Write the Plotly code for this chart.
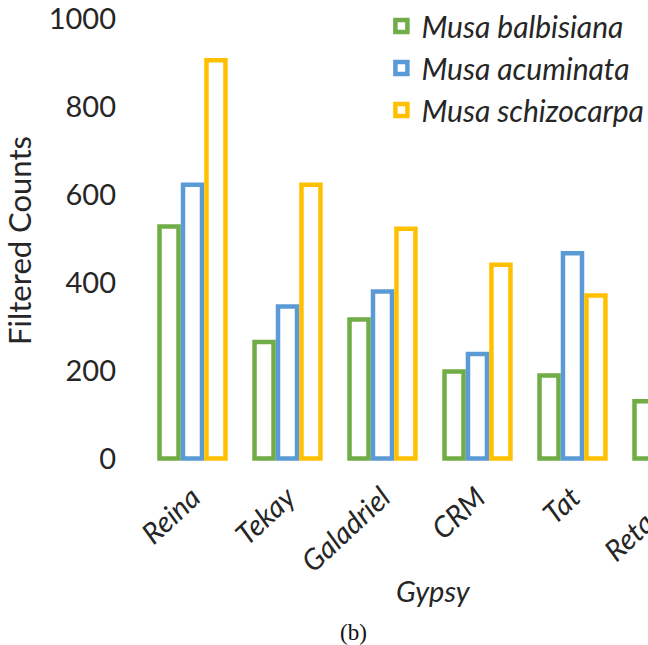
import plotly.graph_objects as go

# Gypsy lineage filtered counts per Musa genome
categories = ["Reina", "Tekay", "Galadriel", "CRM", "Tat", "Retand"]
balbisiana = [528, 265, 316, 198, 189, 130]
acuminata = [623, 346, 380, 238, 467, None]
schizocarpa = [906, 623, 523, 441, 371, None]

series_names = ["Musa balbisiana", "Musa acuminata", "Musa schizocarpa"]
series_colors = ["#70AD47", "#5B9BD5", "#FFC000"]
y_ticks = [0, 200, 400, 600, 800, 1000]

FONT = "Lato"
TEXT = "#262626"

x_range = [-0.5, 4.795]
y_range = [-8, 1000]

idx = list(range(len(categories)))
bar_w = 0.2
offsets = [-0.347, -0.1, 0.147]

fig = go.Figure()
for name, vals, col, off in zip(series_names, [balbisiana, acuminata, schizocarpa],
                                series_colors, offsets):
    fig.add_trace(go.Bar(
        x=idx, y=vals, name=name, width=bar_w, offset=off,
        legendgroup=name,
        marker=dict(color="white", line=dict(color=col, width=4.5)),
    ))

# label for the last category, which sits past the right edge of the axis range
last = len(categories) - 1
px_last = (last - x_range[0]) / (x_range[1] - x_range[0])

fig.update_layout(
    width=648, height=645,
    margin=dict(l=145, r=0, t=19, b=182.5, pad=0, autoexpand=False),
    paper_bgcolor="white", plot_bgcolor="white",
    barmode="overlay",
    font=dict(family=FONT, color=TEXT, size=29),
    showlegend=True,
    legend=dict(
        x=0.47, y=1.0, xanchor="left", yanchor="top", yref="container",
        font=dict(family=FONT, size=30, color=TEXT, style="italic"),
        tracegroupgap=0, bgcolor="rgba(0,0,0,0)",
    ),
    xaxis=dict(
        range=x_range, tickmode="array", tickvals=idx, ticktext=categories,
        tickangle=-43, showgrid=False, showline=False, zeroline=False, ticks="",
        ticklabelstandoff=12,
        tickfont=dict(family=FONT, size=29, color=TEXT, style="italic"),
    ),
    yaxis=dict(
        range=y_range, tickmode="array", tickvals=y_ticks,
        showgrid=False, showline=False, zeroline=False, ticks="",
        ticklabelstandoff=28,
        tickfont=dict(family=FONT, size=29, color=TEXT),
        title=dict(text="Filtered Counts", standoff=13,
                   font=dict(family=FONT, size=31, color=TEXT)),
    ),
    annotations=[
        dict(text=categories[last], xref="paper", yref="paper",
             x=px_last, y=0, xanchor="right", yanchor="top",
             textangle=-43, showarrow=False, yshift=-19, xshift=18,
             font=dict(family=FONT, size=29, color=TEXT, style="italic")),
        dict(text="Gypsy", xref="paper", yref="paper",
             x=(433 - 145) / 503, y=-0.29, xanchor="center", yanchor="middle",
             showarrow=False,
             font=dict(family=FONT, size=29, color=TEXT, style="italic")),
        dict(text="(b)", xref="paper", yref="paper",
             x=(353 - 145) / 503, y=-0.385, xanchor="center", yanchor="middle",
             showarrow=False,
             font=dict(family="Liberation Serif", size=23, color="#111111")),
    ],
)

fig.write_html("out.html")
